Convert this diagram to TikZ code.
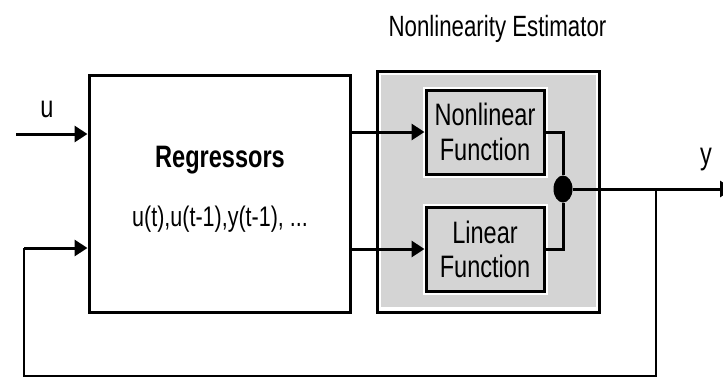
\documentclass[tikz,border=0pt]{standalone}
\usepackage{fontspec}
\setmainfont{Liberation Sans}[FakeStretch=0.76]
\usetikzlibrary{arrows.meta,shapes.geometric}

\definecolor{panelgray}{RGB}{212,212,212}

\tikzset{
  wire/.style={line width=3pt},
  thinwire/.style={line width=2pt},
  arr/.style={-{Triangle[length=13pt,width=16pt]}},
  block/.style={draw, line width=3pt, rectangle, inner sep=0pt},
  fnbox/.style={block, fill=panelgray, minimum width=118pt, minimum height=84pt,
    preaction={draw=white, line width=7pt}},
  lbl/.style={font=\fontsize{31}{36}\selectfont, inner sep=0pt, anchor=base},
}

\begin{document}
\begin{tikzpicture}[x=1pt,y=-1pt]
  \useasboundingbox (0,0) rectangle (723,378);

  % title
  \node[lbl, font=\fontsize{29.3}{34}\selectfont] (title) at (497.5,36) {Nonlinearity Estimator};

  % regressor block
  \node[block, minimum width=261pt, minimum height=237pt] (reg) at (219.5,193.5) {};
  \node[lbl, font=\bfseries\fontsize{31}{36}\selectfont] (regname) at (220,167) {Regressors};
  \node[lbl, font=\fontsize{28.3}{33}\selectfont] (reglist) at (220,226) {u(t),u(t-1),y(t-1), ...};

  % nonlinearity estimator panel
  \node[block, fill=white, minimum width=222pt, minimum height=241pt] (est) at (488,191.5) {};
  \fill[panelgray] (380.5,74.5) rectangle (595.5,307);

  \node[fnbox] (nl) at (485,132) {};
  \node[lbl] (nlt1) at (485,125) {Nonlinear};
  \node[lbl] (nlt2) at (485,160) {Function};
  \node[fnbox] (lin) at (485,249) {};
  \node[lbl] (lint1) at (485,243) {Linear};
  \node[lbl] (lint2) at (485,277) {Function};

  % summing junction
  \node[ellipse, fill=black, minimum width=19pt, minimum height=27pt, inner sep=0pt] (j) at (563,189) {};
  \draw[wire] (nl.east) -| (j.north);
  \draw[wire] (lin.east) -| (j.south);

  % output
  \coordinate (yout) at (733,189);
  \coordinate (br) at (656,189);
  \draw[wire, arr] (j.east) -- (yout);
  \node[lbl] (ylab) at (706,164) {y};

  % input
  \coordinate (uin) at (16,134);
  \draw[wire, arr] (uin) -- (reg.west |- uin);
  \node[lbl] (ulab) at (47,117) {u};

  % regressor outputs to the two function blocks
  \draw[wire, arr] (reg.east |- nl.west) -- (nl.west);
  \draw[wire, arr] (reg.east |- lin.west) -- (lin.west);

  % feedback path
  \coordinate (fb1) at (656,376);
  \coordinate (fb2) at (24,376);
  \coordinate (fb3) at (24,248);
  \draw[thinwire] (br) -- (fb1) -- (fb2) -- (fb3);
  \draw[wire, arr] (fb3) -- (reg.west |- fb3);
\end{tikzpicture}
\end{document}
